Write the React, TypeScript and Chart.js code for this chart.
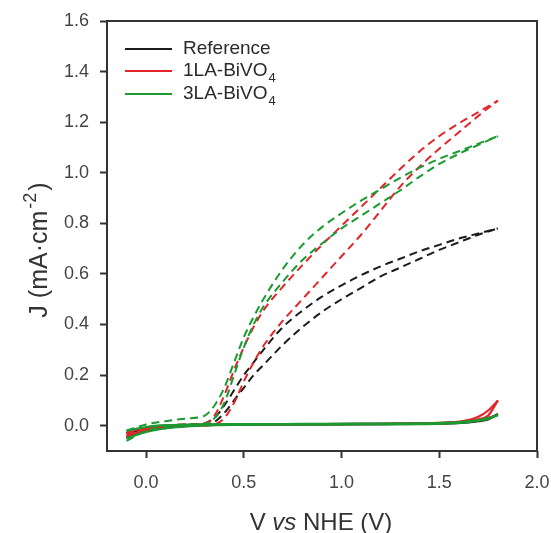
import React, { useEffect, useRef } from "react";
import { Chart, registerables } from "chart.js";

Chart.register(...registerables);

// ---- tick labels ----
const xTicks = [0, 0.5, 1.0, 1.5, 2.0];
const yTicks = [0, 0.2, 0.4, 0.6, 0.8, 1.0, 1.2, 1.4, 1.6];

// ---- series names ----
const seriesNames = ["Reference", "1LA-BiVO", "3LA-BiVO"];
const seriesSubs = ["", "4", "4"];

// ---- light (dashed, two scan branches) ----
const lightV = [-0.1, 0.0, 0.1, 0.2, 0.3, 0.35, 0.4, 0.45, 0.5, 0.55, 0.6, 0.7, 0.8, 0.9, 1.0, 1.1, 1.2, 1.3, 1.4, 1.5, 1.6, 1.7, 1.8];
const refLightA = [-0.03, -0.01, 0.0, 0.005, 0.01, 0.03, 0.08, 0.14, 0.2, 0.25, 0.3, 0.39, 0.455, 0.51, 0.555, 0.595, 0.63, 0.66, 0.69, 0.715, 0.74, 0.76, 0.78];
const refLightB = [-0.05, -0.02, -0.01, 0.0, 0.005, 0.015, 0.05, 0.1, 0.15, 0.2, 0.24, 0.32, 0.39, 0.45, 0.5, 0.545, 0.59, 0.625, 0.66, 0.695, 0.725, 0.755, 0.78];
const la1LightA = [-0.03, -0.01, 0.0, 0.005, 0.01, 0.04, 0.12, 0.22, 0.31, 0.39, 0.455, 0.55, 0.635, 0.715, 0.79, 0.865, 0.94, 1.015, 1.085, 1.145, 1.195, 1.24, 1.285];
const la1LightB = [-0.04, -0.015, -0.005, 0.0, 0.0, 0.005, 0.03, 0.09, 0.175, 0.25, 0.315, 0.415, 0.5, 0.585, 0.67, 0.755, 0.85, 0.945, 1.025, 1.095, 1.16, 1.225, 1.285];
const la3LightA = [-0.02, 0.005, 0.018, 0.028, 0.04, 0.08, 0.15, 0.25, 0.35, 0.43, 0.5, 0.62, 0.715, 0.785, 0.84, 0.89, 0.935, 0.98, 1.02, 1.055, 1.085, 1.115, 1.145];
const la3LightB = [-0.06, -0.02, -0.005, 0.003, 0.008, 0.03, 0.09, 0.2, 0.31, 0.4, 0.47, 0.57, 0.655, 0.72, 0.78, 0.83, 0.88, 0.93, 0.985, 1.035, 1.075, 1.11, 1.145];

// ---- dark (solid, two scan branches) ----
const darkV = [-0.1, 0.0, 0.1, 0.2, 0.3, 0.5, 0.8, 1.1, 1.4, 1.55, 1.65, 1.7, 1.75, 1.8];
const refDarkA = [-0.03, -0.012, -0.004, 0.0, 0.003, 0.005, 0.006, 0.007, 0.008, 0.011, 0.016, 0.022, 0.03, 0.045];
const refDarkB = [-0.045, -0.02, -0.008, -0.002, 0.002, 0.004, 0.005, 0.006, 0.007, 0.009, 0.013, 0.018, 0.025, 0.045];
const la1DarkA = [-0.025, -0.01, -0.002, 0.002, 0.004, 0.005, 0.006, 0.007, 0.009, 0.013, 0.022, 0.035, 0.06, 0.1];
const la1DarkB = [-0.04, -0.018, -0.006, 0.0, 0.003, 0.004, 0.005, 0.006, 0.008, 0.011, 0.018, 0.025, 0.04, 0.1];
const la3DarkA = [-0.02, -0.005, 0.002, 0.004, 0.005, 0.006, 0.007, 0.008, 0.009, 0.012, 0.017, 0.022, 0.03, 0.042];
const la3DarkB = [-0.05, -0.025, -0.01, -0.003, 0.001, 0.003, 0.004, 0.005, 0.006, 0.009, 0.014, 0.02, 0.027, 0.042];

const colors = ["#1c1c1c", "#e3242b", "#1a9a30"];

const FONT = "'Liberation Sans', Arial, Helvetica, sans-serif";

function pts(v: number[], j: number[]) {
  return v.map((x, i) => ({ x, y: j[i] }));
}

const overlayPlugin = {
  id: "overlay",
  afterDraw(chart: any) {
    const { ctx, chartArea } = chart;
    const { left, right, top, bottom } = chartArea;
    ctx.save();
    // frame
    ctx.strokeStyle = "#333";
    ctx.lineWidth = 2;
    ctx.setLineDash([]);
    ctx.strokeRect(left, top, right - left, bottom - top);

    // legend
    const lx0 = 125, lx1 = 172, tx = 183;
    const ly = [49, 71, 94];
    seriesNames.forEach((name, i) => {
      ctx.strokeStyle = colors[i];
      ctx.lineWidth = 2;
      ctx.beginPath();
      ctx.moveTo(lx0, ly[i]);
      ctx.lineTo(lx1, ly[i]);
      ctx.stroke();
      ctx.fillStyle = "#2a2a2a";
      ctx.font = `19px ${FONT}`;
      ctx.textBaseline = "middle";
      ctx.textAlign = "left";
      ctx.fillText(name, tx, ly[i]);
      if (seriesSubs[i]) {
        const w = ctx.measureText(name).width;
        ctx.font = `13px ${FONT}`;
        ctx.fillText(seriesSubs[i], tx + w + 1, ly[i] + 7);
      }
    });

    // x axis title: V vs NHE (V)
    ctx.fillStyle = "#333";
    ctx.textBaseline = "alphabetic";
    ctx.textAlign = "left";
    const parts: [string, string][] = [
      ["V ", `24px ${FONT}`],
      ["vs", `italic 24px ${FONT}`],
      [" NHE (V)", `24px ${FONT}`],
    ];
    let total = 0;
    parts.forEach(([t, f]) => { ctx.font = f; total += ctx.measureText(t).width; });
    let x = 321 - total / 2;
    parts.forEach(([t, f]) => { ctx.font = f; ctx.fillText(t, x, 530); x += ctx.measureText(t).width; });

    // y axis title: J (mA·cm-2)
    ctx.translate(47, 250);
    ctx.rotate(-Math.PI / 2);
    const main1 = "J (mA\u00b7cm";
    const sup = "-2";
    const main2 = ")";
    ctx.font = `25px ${FONT}`;
    const w1 = ctx.measureText(main1).width;
    const w3 = ctx.measureText(main2).width;
    ctx.font = `18px ${FONT}`;
    const w2 = ctx.measureText(sup).width;
    const gap = 2;
    let sx = -(w1 + w2 + w3 + 2 * gap) / 2;
    ctx.font = `25px ${FONT}`;
    ctx.fillText(main1, sx, 0);
    sx += w1 + gap;
    ctx.font = `18px ${FONT}`;
    ctx.fillText(sup, sx, -11);
    sx += w2 + gap;
    ctx.font = `25px ${FONT}`;
    ctx.fillText(main2, sx, 0);
    ctx.restore();
  },
};

export default function App() {
  const ref = useRef<HTMLCanvasElement | null>(null);
  useEffect(() => {
    if (!ref.current) return;
    const light = (data: { x: number; y: number }[], c: string, order: number) => ({
      data,
      borderColor: c,
      borderWidth: 2,
      borderDash: [8, 5],
      pointRadius: 0,
      cubicInterpolationMode: "monotone" as const,
      fill: false,
      order,
    });
    const dark = (data: { x: number; y: number }[], c: string, order: number) => ({
      data,
      borderColor: c,
      borderWidth: 2.2,
      pointRadius: 0,
      cubicInterpolationMode: "monotone" as const,
      fill: false,
      order,
    });
    const chart = new Chart(ref.current, {
      type: "line",
      data: {
        datasets: [
          dark(pts(darkV, refDarkA), colors[0], 6),
          dark(pts(darkV, refDarkB), colors[0], 6),
          light(pts(lightV, refLightA), colors[0], 5),
          light(pts(lightV, refLightB), colors[0], 5),
          dark(pts(darkV, la1DarkA), colors[1], 4),
          dark(pts(darkV, la1DarkB), colors[1], 4),
          light(pts(lightV, la1LightA), colors[1], 3),
          light(pts(lightV, la1LightB), colors[1], 3),
          dark(pts(darkV, la3DarkA), colors[2], 1),
          dark(pts(darkV, la3DarkB), colors[2], 1),
          light(pts(lightV, la3LightA), colors[2], 2),
          light(pts(lightV, la3LightB), colors[2], 2),
        ],
      },
      options: {
        animation: false,
        responsive: false,
        maintainAspectRatio: false,
        layout: { padding: { left: 0, top: 21, right: 14, bottom: 0 } },
        plugins: { legend: { display: false }, tooltip: { enabled: false } },
        scales: {
          x: {
            type: "linear",
            min: -0.2,
            max: 2.0,
            afterBuildTicks: (s: any) => { s.ticks = xTicks.map((v) => ({ value: v })); },
            afterFit: (s: any) => { s.height = 82; s.paddingLeft = 0; s.paddingRight = 0; },
            grid: { drawOnChartArea: false, drawTicks: true, tickLength: 7, tickWidth: 2, tickColor: "#333" },
            border: { display: false },
            ticks: {
              padding: 14,
              color: "#444",
              font: { family: FONT, size: 18 },
              maxRotation: 0,
              autoSkip: false,
              callback: (v: any) => Number(v).toFixed(1),
            },
          },
          y: {
            type: "linear",
            min: -0.1,
            max: 1.6,
            afterBuildTicks: (s: any) => { s.ticks = yTicks.map((v) => ({ value: v })); },
            afterFit: (s: any) => { s.width = 107; s.paddingTop = 0; s.paddingBottom = 0; },
            grid: { drawOnChartArea: false, drawTicks: true, tickLength: 7, tickWidth: 2, tickColor: "#333" },
            border: { display: false },
            ticks: {
              padding: 11,
              color: "#444",
              font: { family: FONT, size: 18 },
              autoSkip: false,
              callback: (v: any) => Number(v).toFixed(1),
            },
          },
        },
      },
      plugins: [overlayPlugin],
    });
    return () => chart.destroy();
  }, []);
  return (
    <div style={{ position: "fixed", left: 0, top: 0, width: 551, height: 533, background: "#fff" }}>
      <canvas ref={ref} width={551} height={533} style={{ width: 551, height: 533, display: "block" }} />
    </div>
  );
}
